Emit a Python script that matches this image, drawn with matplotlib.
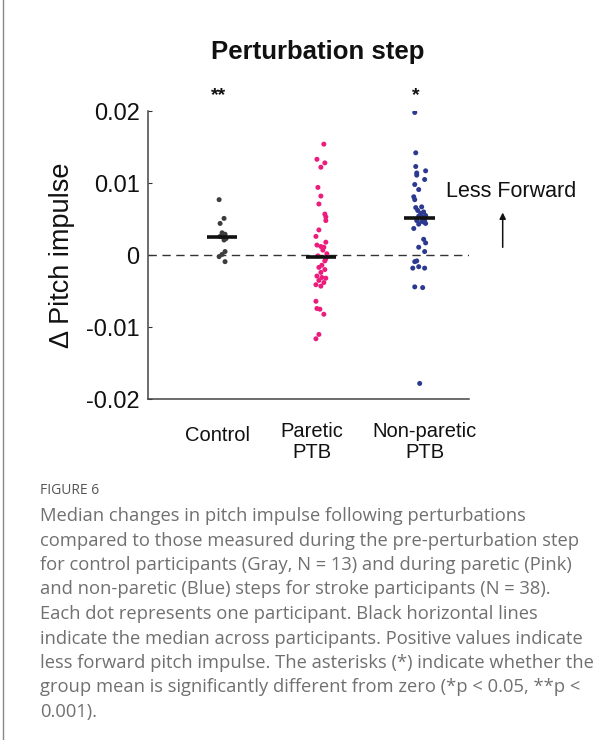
import numpy as np
import matplotlib.pyplot as plt

# values
control = [0.0077, 0.0051, 0.0044, 0.0031, 0.0029, 0.0026, 0.0025, 0.0023, 0.0021,
           0.0005, 0.0001, -0.0002, -0.0009]
control_dx = [-0.03, 0.02, -0.02, 0.0, 0.03, -0.02, 0.01, 0.04, 0.02, 0.03, 0.0, -0.03, 0.03]

paretic = [0.0154, 0.0133, 0.0128, 0.0122, 0.0094, 0.0082, 0.0071, 0.0057, 0.0053, 0.0048,
           0.0035, 0.0026, 0.0018, 0.0014, 0.0012, 0.0011, 0.0007, 0.0002, -0.0001, -0.0005,
           -0.0008, -0.0014, -0.0017, -0.0020, -0.0024, -0.0029, -0.0031, -0.0032, -0.0035, -0.0038,
           -0.0041, -0.0043, -0.0064, -0.0074, -0.0075, -0.0082, -0.0110, -0.0116]
paretic_dx = [0.03, -0.04, 0.04, 0.0, -0.03, 0.0, -0.02, 0.04, 0.05, 0.05,
              -0.02, -0.05, 0.05, -0.04, 0.0, 0.03, 0.02, 0.06, -0.03, 0.05,
              0.04, 0.01, -0.02, 0.04, 0.0, -0.04, 0.01, 0.05, -0.02, 0.03,
              -0.05, 0.0, -0.05, -0.04, -0.01, 0.03, -0.02, -0.05]

nonparetic = [0.0198, 0.0142, 0.0123, 0.0117, 0.0114, 0.0111, 0.0105, 0.0098, 0.0091, 0.0081,
              0.0077, 0.0067, 0.0066, 0.0062, 0.0060, 0.0058, 0.0055, 0.0054, 0.0053, 0.0049,
              0.0048, 0.0047, 0.0046, 0.0044, 0.0043, 0.0037, 0.0022, 0.0017, 0.0011, 0.0005,
              -0.0008, -0.0009, -0.0016, -0.0018, -0.0018, -0.0044, -0.0045, -0.0178]
nonparetic_dx = [-0.05, -0.04, -0.04, 0.06, -0.03, -0.03, 0.05, -0.05, -0.01, -0.06,
                 -0.05, 0.02, -0.04, -0.02, 0.04, 0.01, 0.06, -0.01, 0.03, 0.05,
                 -0.03, 0.02, 0.04, 0.06, -0.01, -0.06, 0.04, 0.06, -0.01, 0.05,
                 -0.03, -0.05, -0.01, -0.07, 0.05, -0.05, 0.03, 0.0]

groups = ["Control", "Paretic\nPTB", "Non-paretic\nPTB"]
label_x = [0.95, 1.91, 3.05]
colors = ["#3d3d3d", "#ec1c7d", "#2b3990"]
stars = {1: "**", 3: "*"}

plt.rcParams['font.family'] = ['Liberation Sans', 'DejaVu Sans']

fig = plt.figure(figsize=(6.14, 7.40), dpi=100)
ax = fig.add_axes([0.241, 0.4604, 0.523, 0.3896])

data = [control, paretic, nonparetic]
offsets = [control_dx, paretic_dx, nonparetic_dx]
for i, (vals, dx, c) in enumerate(zip(data, offsets, colors)):
    x = i + 1 + np.array(dx)
    ax.scatter(x, vals, s=13, color=c, edgecolors='none', zorder=3)
    med = np.median(vals)
    ax.hlines(med, i + 1 - 0.155, i + 1 + 0.155, color='#111111', lw=2.6, zorder=4)

ax.axhline(0, color='#333333', lw=1, ls=(0, (6, 4)), zorder=1)

ax.set_xlim(0.25, 3.5)
ax.set_ylim(-0.02, 0.02)
ax.set_yticks([-0.02, -0.01, 0, 0.01, 0.02])
ax.set_yticklabels(["-0.02", "-0.01", "0", "0.01", "0.02"])
ax.set_xticks([])
ax.tick_params(axis='y', direction='in', length=3, labelsize=17, colors='#333333',
               labelcolor='#111111', pad=6)
for s in ['top', 'right']:
    ax.spines[s].set_visible(False)
for s in ['left', 'bottom']:
    ax.spines[s].set_color('#444444')
    ax.spines[s].set_linewidth(1.1)

ax.set_ylabel("\u0394 Pitch impulse", fontsize=19.5, labelpad=8, color='#111111')

for i, g in enumerate(groups):
    y = -0.0232 if i > 0 else -0.0237
    ax.text(label_x[i], y, g, ha='center', va='top', fontsize=14.5, linespacing=1.1,
            color='#111111', clip_on=False)

for k, st in stars.items():
    ax.text(k - 0.04, 0.0222, st, ha='center', va='center', fontsize=14, fontweight='bold',
            color='#111111', clip_on=False)

ax.text(3.93, 0.0088, "Less Forward", ha='center', va='center', fontsize=15.5,
        color='#111111', clip_on=False)
ax.annotate("", xy=(3.84, 0.0063), xytext=(3.84, 0.0007),
            arrowprops=dict(arrowstyle='-|>', color='#111111', lw=1.1, mutation_scale=9),
            annotation_clip=False)

fig.text(318 / 614, 1 - 52 / 740, "Perturbation step", ha='center', va='center',
         fontsize=18.5, fontweight='bold', color='#111111')

# caption
fig.add_artist(plt.Line2D([3 / 614, 3 / 614], [0, 1], color='#888888', lw=1))
fig.text(40 / 614, 1 - 491 / 740, "FIGURE 6", ha='left', va='center', fontsize=10,
         color='#555555', family=['Open Sans', 'DejaVu Sans'])
caption = [
    "Median changes in pitch impulse following perturbations",
    "compared to those measured during the pre-perturbation step",
    "for control participants (Gray, N = 13) and during paretic (Pink)",
    "and non-paretic (Blue) steps for stroke participants (N = 38).",
    "Each dot represents one participant. Black horizontal lines",
    "indicate the median across participants. Positive values indicate",
    "less forward pitch impulse. The asterisks (*) indicate whether the",
    "group mean is significantly different from zero (*p < 0.05, **p <",
    "0.001).",
]
for j, line in enumerate(caption):
    fig.text(40 / 614, 1 - (516 + j * 24.5) / 740, line, ha='left', va='center',
             fontsize=13.2, color='#707070', family=['Open Sans', 'DejaVu Sans'])

fig.savefig("out.png", dpi=100)
